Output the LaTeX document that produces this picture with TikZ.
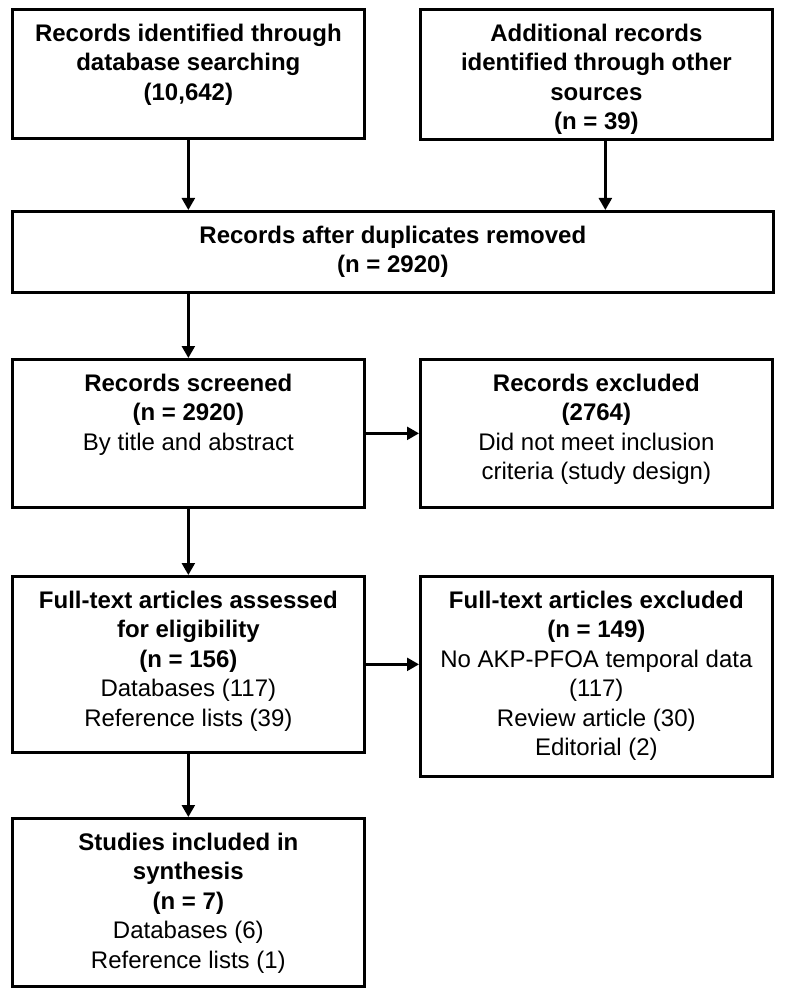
\documentclass[tikz,border=0pt]{standalone}
\usepackage{fontspec}
\setmainfont{Liberation Sans}
\usetikzlibrary{arrows.meta,calc}

% text block of a box: width, height, lines (set from the top)
\newcommand{\boxtext}[3]{\parbox[c][#2][t]{#1}{\centering\fontsize{12}{14.75}\selectfont\rule{0pt}{16pt}#3}}

\tikzset{
    flowbox/.style={draw, line width=1.35pt, inner sep=0pt, anchor=north west},
    flowarrow/.style={-{Triangle[length=6pt,width=6.5pt]}, line width=1.2pt}
}

\begin{document}
\begin{tikzpicture}[x=0.5pt, y=-0.5pt]

    \useasboundingbox (0,0) rectangle (785,994);

    % Identification
    \node[flowbox] (dbsearch) at (11,8) {\boxtext{176pt}{64.5pt}{\textbf{Records identified through\\database searching\\(10,642)}}};
    \node[flowbox] (othersrc) at (419,8) {\boxtext{176pt}{65pt}{\textbf{Additional records\\identified through other\\sources\\(n = 39)}}};

    % Screening
    \node[flowbox] (dedup) at (11,210) {\boxtext{380.5pt}{40.5pt}{\textbf{Records after duplicates removed\\(n = 2920)}}};
    \node[flowbox] (screened) at (11,358) {\boxtext{176pt}{74pt}{\textbf{Records screened\\(n = 2920)}\\By title and abstract}};
    \node[flowbox] (excl1) at (419,358) {\boxtext{176pt}{74pt}{\textbf{Records excluded\\(2764)}\\Did not meet inclusion\\criteria (study design)}};

    % Eligibility
    \node[flowbox] (fulltext) at (11,575) {\boxtext{176pt}{88pt}{\textbf{Full-text articles assessed\\for eligibility\\(n = 156)}\\Databases (117)\\Reference lists (39)}};
    \node[flowbox] (excl2) at (419,575) {\boxtext{176pt}{100pt}{\textbf{Full-text articles excluded\\(n = 149)}\\No AKP-PFOA temporal data\\(117)\\Review article (30)\\Editorial (2)}};

    % Included
    \node[flowbox] (included) at (11,817) {\boxtext{176pt}{84pt}{\textbf{Studies included in\\synthesis\\(n = 7)}\\Databases (6)\\Reference lists (1)}};

    % Arrows
    \draw[flowarrow] (dbsearch.south) -- (dedup.north -| dbsearch.south);
    \draw[flowarrow] ($(othersrc.south)+(9,0)$) coordinate (srcfoot) -- (srcfoot |- dedup.north);
    \draw[flowarrow] (dedup.south -| screened.north) -- (screened.north);
    \draw[flowarrow] (screened.east) -- (excl1.west);
    \draw[flowarrow] (screened.south) -- (fulltext.north);
    \draw[flowarrow] (fulltext.east) -- (fulltext.east -| excl2.west);
    \draw[flowarrow] (fulltext.south) -- (included.north);

\end{tikzpicture}
\end{document}
